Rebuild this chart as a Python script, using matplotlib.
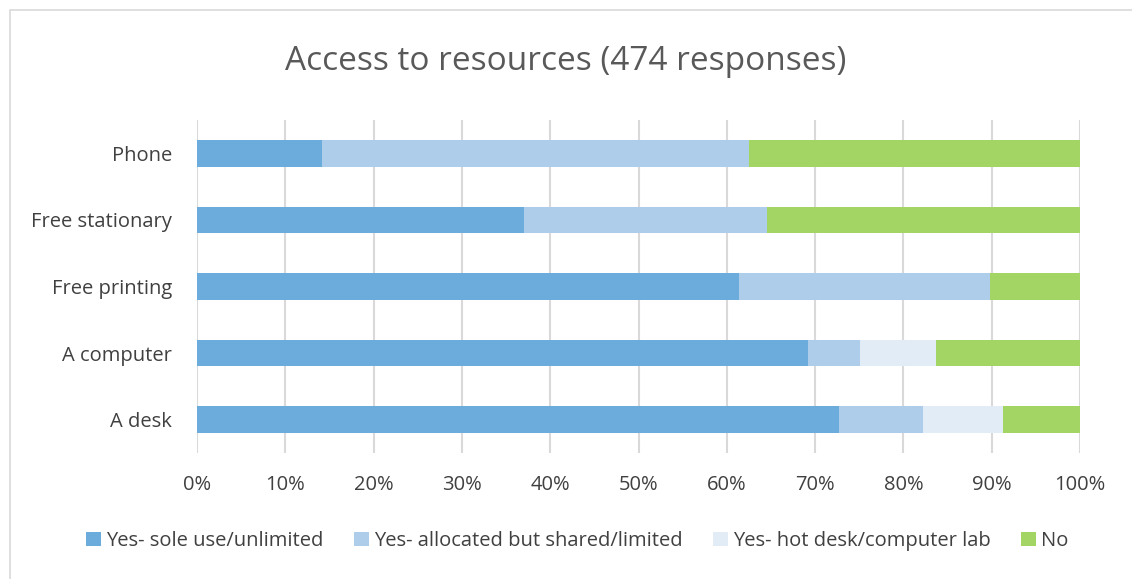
import matplotlib.pyplot as plt
import numpy as np
from matplotlib.patches import Rectangle

plt.rcParams['font.family'] = ['Open Sans', 'DejaVu Sans']

categories = ['A desk', 'A computer', 'Free printing', 'Free stationary', 'Phone']
series = ['Yes- sole use/unlimited', 'Yes- allocated but shared/limited',
          'Yes- hot desk/computer lab', 'No']
sole = [72.7, 69.2, 61.4, 37.0, 14.2]
shared = [9.5, 5.9, 28.4, 27.5, 48.3]
hot = [9.1, 8.6, 0.0, 0.0, 0.0]
no = [8.7, 16.3, 10.2, 35.5, 37.5]
colors = ['#6CACDC', '#ADCDEA', '#E2ECF7', '#A2D563']

fig = plt.figure(figsize=(11.32, 5.79), dpi=100)
ax = fig.add_axes([197 / 1132, 1 - 453 / 579, (1080 - 197) / 1132, (453 - 120) / 579])

fig.patches.append(Rectangle((10 / 1132, -0.1), 1.2, 1.1 - 10 / 579, transform=fig.transFigure,
                             fill=False, edgecolor='#D9D9D9', linewidth=1.2))

y = np.arange(len(categories))
left = np.zeros(len(categories))
for vals, name, c in zip([sole, shared, hot, no], series, colors):
    ax.barh(y, vals, left=left, height=0.4, color=c, label=name, zorder=3)
    left += np.array(vals)

ax.set_xlim(0, 100)
ax.set_ylim(-0.5, 4.5)
ax.set_yticks(y)
ax.set_yticklabels(categories, fontsize=14.5, color='#404040')
ax.set_xticks(np.arange(0, 101, 10))
ax.set_xticklabels([f'{v}%' for v in range(0, 101, 10)], fontsize=14.5, color='#404040')
ax.tick_params(length=0, pad=16)
ax.tick_params(axis='y', pad=18)
ax.grid(axis='x', color='#D9D9D9', linewidth=1.5, zorder=0)
for s in ax.spines.values():
    s.set_visible(False)

fig.text(0.5, 1 - 62 / 579, 'Access to resources (474 responses)', ha='center', va='center',
         fontsize=24, color='#595959')

fig.legend(loc='center', bbox_to_anchor=(0.51, 1 - 541 / 579), ncol=4, frameon=False,
           fontsize=14.5, handlelength=0.75, handleheight=0.75, handletextpad=0.25,
           columnspacing=1.5, labelcolor='#404040')

fig.savefig('out.png', dpi=100)
